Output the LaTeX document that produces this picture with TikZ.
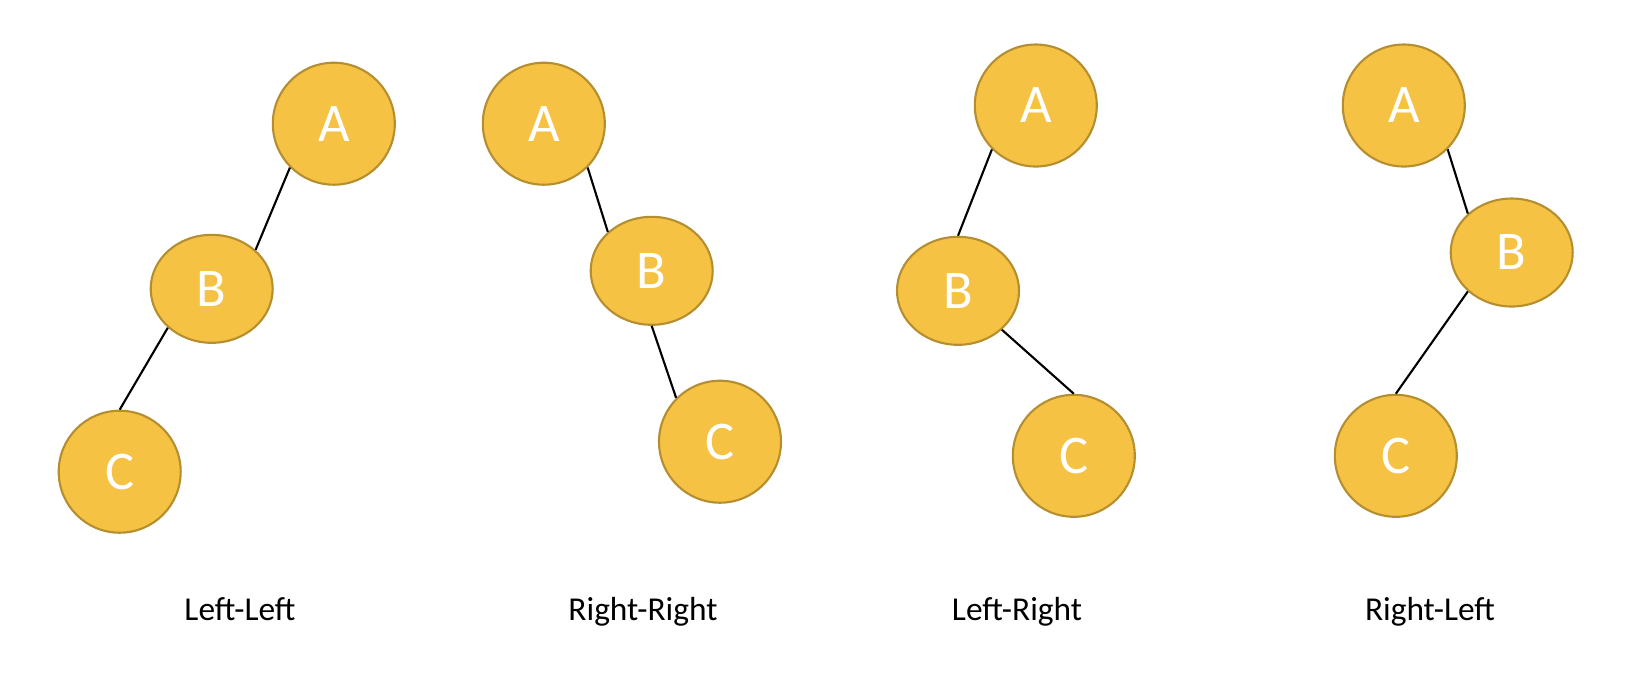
\documentclass[tikz,border=0pt]{standalone}
\usepackage{fontspec}
\setmainfont{Carlito}
\usetikzlibrary{shapes.geometric}
\definecolor{gold}{HTML}{F6C244}
\definecolor{goldline}{HTML}{B58E30}
\tikzset{
  leaf/.style={circle, draw=goldline, fill=gold, line width=0.6pt, minimum size=12.2mm, inner sep=0pt, text=white, font=\fontsize{15.5}{18}\selectfont},
  mid/.style={ellipse, draw=goldline, fill=gold, line width=0.6pt, minimum width=12.2mm, minimum height=10.8mm, inner sep=0pt, text=white, font=\fontsize{15.5}{18}\selectfont},
  link/.style={draw, line width=0.6pt},
  caption/.style={anchor=base, font=\fontsize{9.5}{11}\selectfont}}

\begin{document}
\begin{tikzpicture}
\useasboundingbox (0,0) rectangle (16.28,-6.8);
\foreach \t/\ax/\ay/\bx/\by/\cx/\cy/\lx/\txt in {
  1/3.338/-1.237/2.117/-2.888/1.197/-4.717/2.40/Left-Left,
  2/5.438/-1.237/6.517/-2.708/7.200/-4.417/6.43/Right-Right,
  3/10.358/-1.055/9.580/-2.908/10.738/-4.558/10.17/Left-Right,
  4/14.038/-1.055/15.117/-2.525/13.958/-4.558/14.30/Right-Left} {
  \node[leaf] (a\t) at (\ax,\ay) {A};
  \node[mid] (b\t) at (\bx,\by) {B};
  \node[leaf] (c\t) at (\cx,\cy) {C};
  \node[caption] (l\t) at (\lx,-6.20) {\txt};}
% connectors
\draw[link] (a1.south west) -- (b1.north east);
\draw[link] (b1.south west) -- (c1.north);
\draw[link] (a2.south east) -- (b2.north west);
\draw[link] (b2.south) -- (c2.north west);
\draw[link] (a3.south west) -- (b3.north);
\draw[link] (b3.south east) -- (c3.north);
\draw[link] (a4.south east) -- (b4.north west);
\draw[link] (b4.south west) -- (c4.north);
\end{tikzpicture}
\end{document}
